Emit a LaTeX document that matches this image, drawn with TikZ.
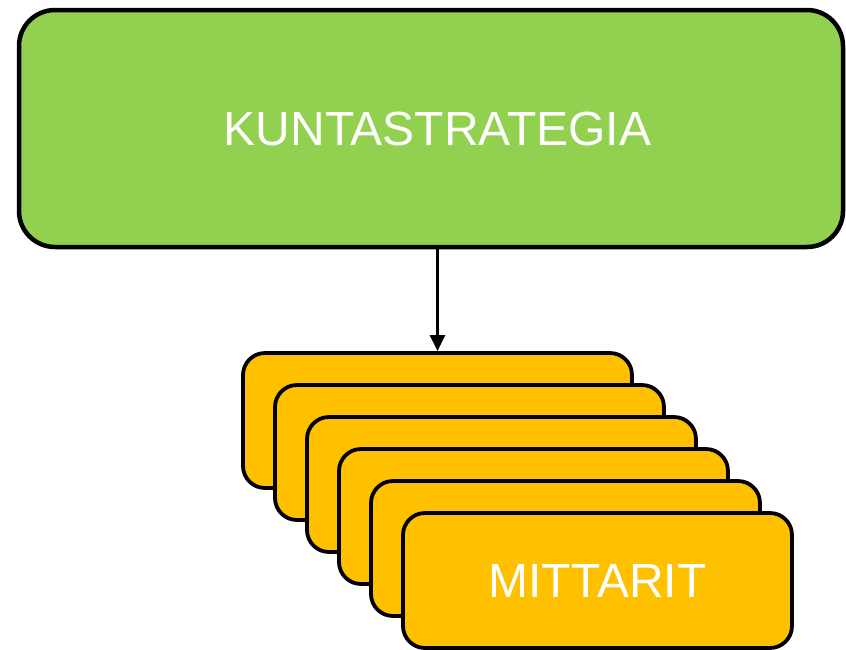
\documentclass[tikz,border=0pt]{standalone}
\usepackage{fontspec}
\setmainfont{Liberation Sans}
\usetikzlibrary{arrows.meta}
\definecolor{kgreen}{HTML}{92D050}
\definecolor{korange}{HTML}{FFC000}
\tikzset{
  greenbox/.style={draw=black, line width=4.5pt, fill=kgreen, rounded corners=36pt, minimum width=824pt, minimum height=237pt, inner sep=0pt},
  orangebox/.style={draw=black, line width=3.8pt, fill=korange, rounded corners=22pt, minimum width=389pt, minimum height=135pt, inner sep=0pt, text=white, font=\fontsize{48}{58}\selectfont},
  bigtext/.style={text=white, font=\fontsize{48}{58}\selectfont, inner sep=0pt},
  flow/.style={line width=2.5pt, -{Triangle[width=15pt,length=16pt]}}
}
\begin{document}
\begin{tikzpicture}[x=1pt,y=-1pt]
\useasboundingbox (0,0) rectangle (846,649);
\node[greenbox] (strat) at (431,128.5) {};
\node[bigtext] (ktext) at (437.5,128.5) {KUNTASTRATEGIA};
\node[orangebox] (m0) at (437.5,420.5) {};
\node[orangebox] (m1) at (469.5,452.5) {};
\node[orangebox] (m2) at (501.5,484.5) {};
\node[orangebox] (m3) at (533.5,516.5) {};
\node[orangebox] (m4) at (565.5,548.5) {};
\node[orangebox] (m5) at (597.5,580.5) {MITTARIT};
\draw[flow] (strat.south -| ktext) -- (m0.north -| ktext);
\end{tikzpicture}
\end{document}
